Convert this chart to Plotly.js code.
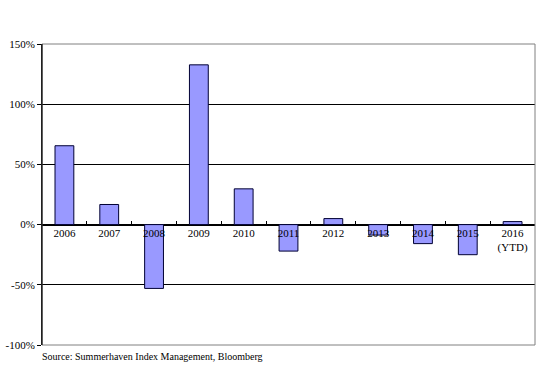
<!DOCTYPE html>
<html>
<head>
<meta charset="utf-8">
<script src="https://cdn.plot.ly/plotly-3.0.1.min.js"></script>
<style>html,body{margin:0;padding:0;background:#fff;}#chart{width:544px;height:369px;}</style>
</head>
<body>
<div id="chart"></div>
<script>
const categories = ["2006","2007","2008","2009","2010","2011","2012","2013","2014","2015","2016<br>(YTD)"];
const returnsPct = [65.5, 16.7, -53, 132.7, 29.7, -22, 5, -8.7, -15.8, -25, 2.5];
const yTickVals = [-100, -50, 0, 50, 100, 150];
const yTickText = ["-100%", "-50%", "0%", "50%", "100%", "150%"];
const sourceText = "Source: Summerhaven Index Management, Bloomberg";

const font = {family: "'Liberation Serif', 'DejaVu Serif', serif", size: 11, color: "#000"};

Plotly.newPlot("chart", [{
  type: "bar",
  x: categories,
  y: returnsPct,
  marker: {color: "#9999FF", line: {color: "#000033", width: 1}},
  hoverinfo: "skip"
}], {
  width: 544, height: 369,
  margin: {l: 42, r: 9, t: 44, b: 24},
  paper_bgcolor: "#fff", plot_bgcolor: "#fff",
  showlegend: false,
  bargap: 0.58,
  font: font,
  xaxis: {
    type: "category",
    anchor: "free", position: 0.4,
    tickson: "boundaries",
    ticks: "inside", ticklen: 4, tickcolor: "#000", tickwidth: 1,
    showline: false, showgrid: false, zeroline: false,
    tickfont: font,
    fixedrange: true
  },
  yaxis: {
    range: [-100, 150],
    tickvals: yTickVals, ticktext: yTickText,
    ticks: "outside", ticklen: 4, tickcolor: "#000", tickwidth: 1,
    showline: true, linecolor: "#000", linewidth: 1,
    showgrid: true, gridcolor: "#000", gridwidth: 1,
    zeroline: true, zerolinecolor: "#000", zerolinewidth: 2,
    tickfont: font,
    fixedrange: true
  },
  shapes: [{
    type: "rect", xref: "paper", yref: "paper", x0: 0, x1: 1, y0: 0, y1: 1,
    line: {color: "#808080", width: 1}, layer: "above"
  }, {
    type: "line", xref: "paper", yref: "paper", x0: 0, x1: 0, y0: 0, y1: 1,
    line: {color: "#000", width: 1}, layer: "above"
  }],
  annotations: [{
    text: sourceText, xref: "paper", yref: "paper", x: -0.004, y: 0,
    xanchor: "left", yanchor: "top", yshift: -4, showarrow: false,
    font: {family: font.family, size: 10, color: "#000"}
  }]
}, {displayModeBar: false, staticPlot: true});
</script>
</body>
</html>
